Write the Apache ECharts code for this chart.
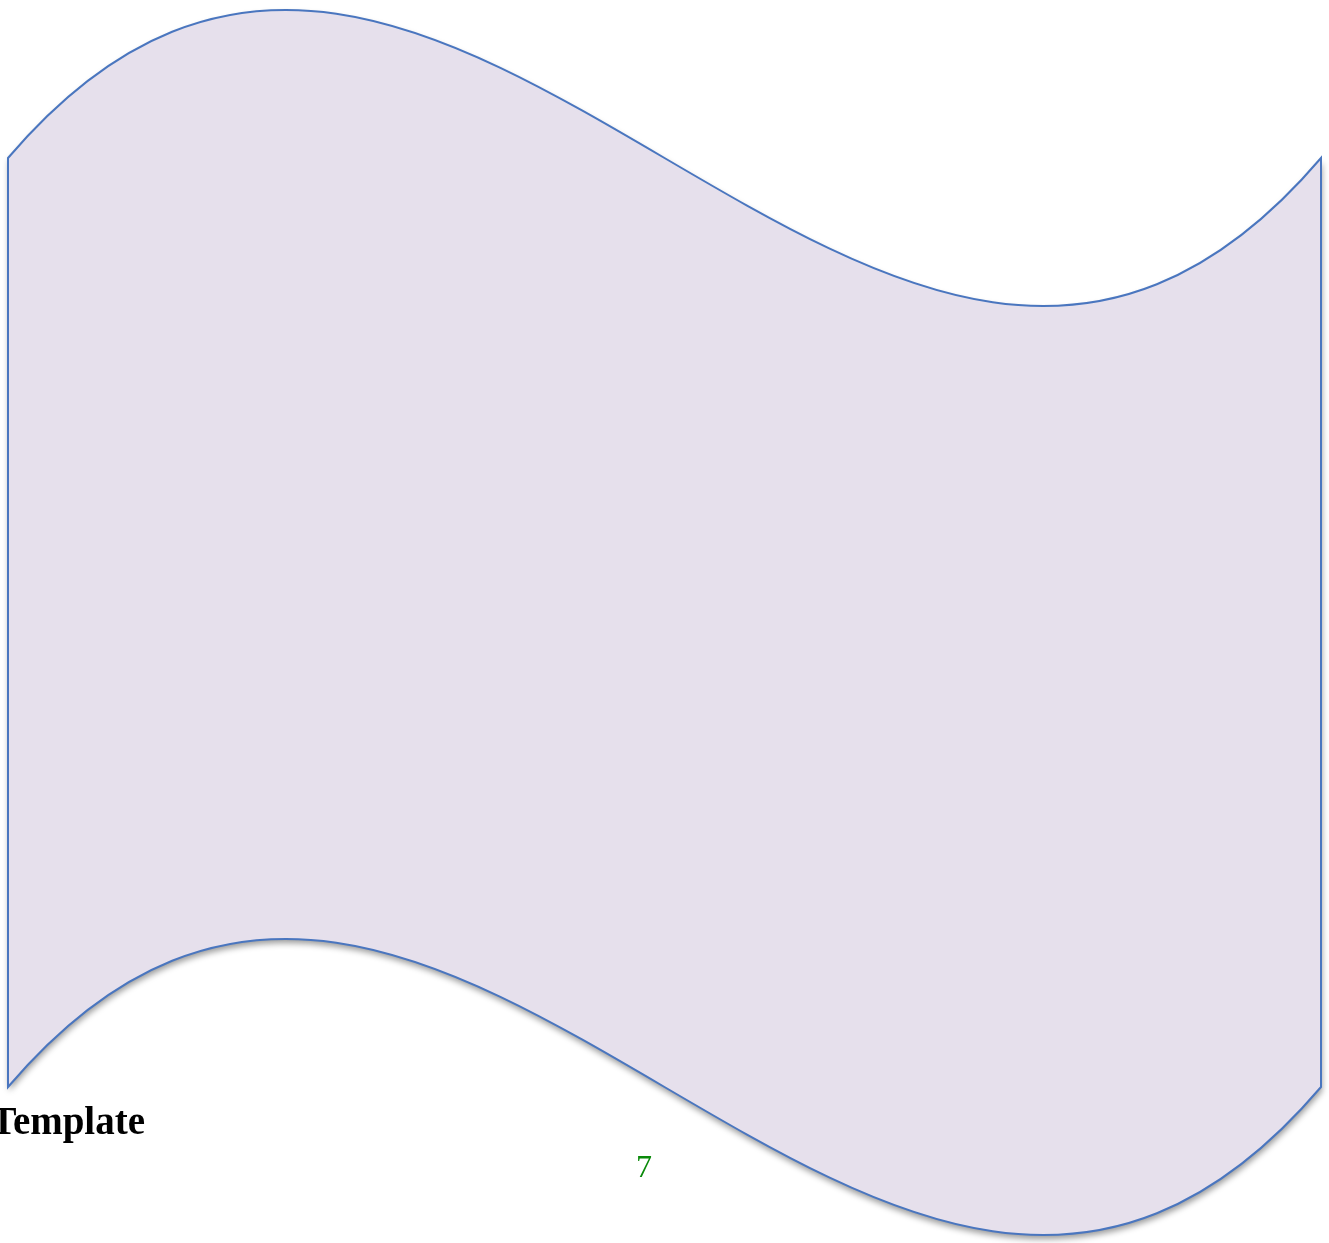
<!DOCTYPE html>
<html>
<head>
<meta charset="utf-8">
<script src="https://cdn.jsdelivr.net/npm/echarts@6/dist/echarts.min.js"></script>
<style>
  html, body { margin: 0; padding: 0; background: #ffffff; }
  #chart { width: 1329px; height: 1243px; }
</style>
</head>
<body>
<div id="chart"></div>
<script>
// Wave banner geometry (axis units = picture pixels, x from the banner's left edge)
const topEdgeX = [0, 437.7, 875.3, 1313];     // cubic Bezier control points, x
const topEdgeY = [158, -355, 671, 158];        // cubic Bezier control points, y
const bandDepth = 929;                         // vertical depth of the banner
const labelTexts = ['Template', '7'];

const chart = echarts.init(document.getElementById('chart'), null, { renderer: 'canvas' });

function renderWave(params, api) {
  const top = topEdgeX.map((x, i) => api.coord([x, topEdgeY[i]]));
  const bot = topEdgeX.map((x, i) => api.coord([x, topEdgeY[i] + bandDepth]));
  const d = 'M' + top[0][0] + ' ' + top[0][1] +
    ' C' + top[1][0] + ' ' + top[1][1] + ' ' + top[2][0] + ' ' + top[2][1] + ' ' + top[3][0] + ' ' + top[3][1] +
    ' L' + bot[3][0] + ' ' + bot[3][1] +
    ' C' + bot[2][0] + ' ' + bot[2][1] + ' ' + bot[1][0] + ' ' + bot[1][1] + ' ' + bot[0][0] + ' ' + bot[0][1] +
    ' Z';
  return {
    type: 'group',
    children: [
      {
        type: 'path',
        shape: { pathData: d },
        style: {
          fill: '#E6E0EC',
          stroke: null,
          shadowBlur: 6,
          shadowOffsetX: 1,
          shadowOffsetY: 4,
          shadowColor: 'rgba(0,0,0,0.4)'
        }
      },
      {
        type: 'path',
        shape: { pathData: d },
        style: { fill: null, stroke: '#4A76BF', lineWidth: 2 }
      }
    ]
  };
}

chart.setOption({
  animation: false,
  backgroundColor: '#ffffff',
  title: [
    {
      text: labelTexts[0],
      right: 1184, top: 1104, padding: 0,
      textStyle: { fontFamily: 'Liberation Serif', fontWeight: 'bold', fontSize: 39, color: '#000000' }
    },
    {
      text: labelTexts[1],
      left: 636, top: 1153, padding: 0,
      textStyle: { fontFamily: 'Liberation Serif', fontWeight: 'normal', fontSize: 32, color: '#0A8A0A' }
    }
  ],
  grid: { left: 8, right: 8, top: 0, bottom: 0, containLabel: false },
  xAxis: { type: 'value', min: 0, max: 1313, show: false },
  yAxis: { type: 'value', min: 0, max: 1243, inverse: true, show: false },
  series: [{
    type: 'custom',
    coordinateSystem: 'cartesian2d',
    renderItem: renderWave,
    data: [[0, 0]],
    silent: true,
    z: 1
  }]
});
</script>
</body>
</html>
